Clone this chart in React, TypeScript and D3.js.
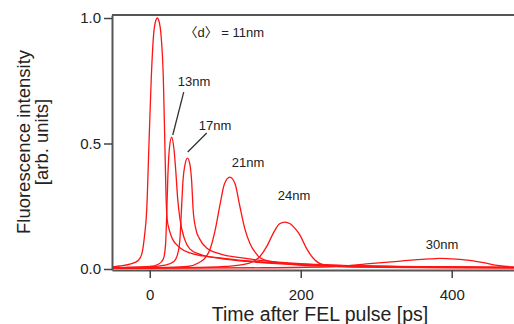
import React, { useEffect, useRef } from "react";
import * as d3 from "d3";

// time after FEL pulse [ps], fluorescence intensity [arb. units]
const curve11nm: [number, number][] = [
  [-50, 0.008], [-40, 0.012], [-25, 0.02], [-15, 0.035], [-10.5, 0.06], [-7, 0.13], [-4, 0.235],
  [-1, 0.5], [2, 0.76], [5, 0.93], [8, 0.99], [10, 1.0], [12, 0.99], [15, 0.93], [18, 0.76],
  [20, 0.5], [21.5, 0.3], [23, 0.2], [26, 0.155], [30, 0.12], [40, 0.085], [53, 0.064],
  [70, 0.052], [93, 0.044], [130, 0.032], [180, 0.022], [250, 0.014], [350, 0.009], [482, 0.006],
];
const curve13nm: [number, number][] = [
  [-50, 0.005], [0, 0.01], [12, 0.02], [18, 0.04], [21, 0.1], [22.5, 0.22], [24, 0.37],
  [26, 0.48], [29, 0.525], [32, 0.48], [34.5, 0.39], [37, 0.28], [40, 0.2], [46, 0.12],
  [53, 0.08], [65, 0.06], [93, 0.042], [130, 0.03], [180, 0.02], [250, 0.013], [350, 0.009],
  [482, 0.006],
];
const curve17nm: [number, number][] = [
  [-50, 0.004], [0, 0.008], [20, 0.015], [32, 0.03], [37, 0.06], [40, 0.12], [42, 0.235],
  [44, 0.35], [47, 0.42], [50, 0.442], [53, 0.42], [55.5, 0.35], [57.5, 0.235], [61, 0.16],
  [66, 0.12], [75, 0.085], [93, 0.06], [120, 0.045], [160, 0.03], [220, 0.018], [300, 0.011],
  [482, 0.006],
];
const curve21nm: [number, number][] = [
  [-50, 0.003], [20, 0.006], [50, 0.01], [65, 0.025], [75, 0.05], [80, 0.08], [87, 0.16],
  [93, 0.255], [99, 0.34], [106, 0.366], [113, 0.34], [119, 0.255], [126, 0.16], [133, 0.1],
  [140, 0.065], [146, 0.045], [160, 0.03], [199, 0.016], [260, 0.01], [350, 0.007], [482, 0.005],
];
const curve24nm: [number, number][] = [
  [-50, 0.003], [50, 0.005], [100, 0.01], [125, 0.018], [137, 0.03], [146, 0.05], [155, 0.09],
  [165, 0.15], [172, 0.18], [179, 0.187], [186, 0.18], [193, 0.16], [199, 0.135], [208, 0.08],
  [216, 0.045], [229, 0.018], [250, 0.01], [300, 0.007], [482, 0.004],
];
const curve30nm: [number, number][] = [
  [-50, 0.003], [150, 0.005], [250, 0.01], [287, 0.02], [320, 0.028], [350, 0.036], [370, 0.04],
  [384, 0.042], [400, 0.04], [420, 0.035], [440, 0.026], [463, 0.013], [482, 0.008],
];

const sizeLabels = ["〈d〉 = 11nm", "13nm", "17nm", "21nm", "24nm", "30nm"];
// label anchor (left edge, baseline) in data units
const labelT = [46, 37.1, 64.9, 108.6, 169.5, 365.6];
const labelV = [0.924, 0.729, 0.554, 0.406, 0.275, 0.08];
// leader lines for 13nm and 17nm: [t1, v1, t2, v2]
const leaders = [
  [45, 0.705, 30.5, 0.534],
  [75.5, 0.542, 50.3, 0.466],
];

const xTicks = [0, 200, 400];
const yTicks = [0, 0.5, 1.0];

const W = 514, H = 324;
const left = 112, right = 514, top = 15, bottom = 270;
const font = "Arial, 'Liberation Sans', 'Noto Sans CJK JP', sans-serif";

export default function App() {
  const ref = useRef<SVGSVGElement>(null);

  useEffect(() => {
    const svg = d3.select(ref.current);
    svg.selectAll("*").remove();

    const x = d3.scaleLinear().domain([-50, 482.5]).range([left, right]);
    const y = d3.scaleLinear().domain([-0.004, 1.012]).range([bottom, top]);

    const line = d3.line<[number, number]>()
      .x(d => x(d[0]))
      .y(d => y(d[1]))
      .curve(d3.curveMonotoneX);

    const curves = [curve11nm, curve13nm, curve17nm, curve21nm, curve24nm, curve30nm];
    svg.append("g")
      .selectAll("path")
      .data(curves)
      .enter()
      .append("path")
      .attr("d", d => line(d))
      .attr("fill", "none")
      .attr("stroke", "#ff1414")
      .attr("stroke-width", 1.3);

    // frame
    svg.append("line")
      .attr("x1", left).attr("x2", W)
      .attr("y1", top).attr("y2", top)
      .attr("stroke", "#555").attr("stroke-width", 2);

    const yAxis = d3.axisLeft(y)
      .tickValues(yTicks)
      .tickFormat(d3.format(".1f"))
      .tickSize(8)
      .tickSizeOuter(0)
      .tickPadding(3);
    const gy = svg.append("g")
      .attr("transform", `translate(${left},0)`)
      .call(yAxis);

    const xAxis = d3.axisBottom(x)
      .tickValues(xTicks)
      .tickFormat(d3.format("d"))
      .tickSize(8)
      .tickSizeOuter(0)
      .tickPadding(11);
    const gx = svg.append("g")
      .attr("transform", `translate(0,${bottom})`)
      .call(xAxis);

    [gx, gy].forEach(g => {
      g.select(".domain").attr("stroke", "#555").attr("stroke-width", 2);
      g.selectAll(".tick line").attr("stroke", "#444").attr("stroke-width", 1.5);
      g.selectAll(".tick text")
        .attr("fill", "#222")
        .style("font-family", font)
        .style("font-size", "15px");
    });

    // size labels
    sizeLabels.forEach((s, i) => {
      svg.append("text")
        .attr("x", x(labelT[i]))
        .attr("y", y(labelV[i]))
        .text(s)
        .attr("fill", "#222")
        .style("font-family", font)
        .style("font-size", "13px");
    });

    leaders.forEach(l => {
      svg.append("line")
        .attr("x1", x(l[0])).attr("y1", y(l[1]))
        .attr("x2", x(l[2])).attr("y2", y(l[3]))
        .attr("stroke", "#333")
        .attr("stroke-width", 1.3);
    });

    // axis titles
    svg.append("text")
      .attr("transform", `translate(30,142) rotate(-90)`)
      .text("Fluorescence intensity")
      .attr("text-anchor", "middle")
      .attr("fill", "#222")
      .style("font-family", font)
      .style("font-size", "18.5px");
    svg.append("text")
      .attr("transform", `translate(48,142) rotate(-90)`)
      .text("[arb. units]")
      .attr("text-anchor", "middle")
      .attr("fill", "#222")
      .style("font-family", font)
      .style("font-size", "18.5px");
    svg.append("text")
      .attr("x", 320)
      .attr("y", 321)
      .text("Time after FEL pulse [ps]")
      .attr("text-anchor", "middle")
      .attr("fill", "#222")
      .style("font-family", font)
      .style("font-size", "19.5px");
  }, []);

  return (
    <svg
      ref={ref}
      width={W}
      height={H}
      style={{ position: "absolute", left: 0, top: 0, background: "#fff" }}
    />
  );
}
